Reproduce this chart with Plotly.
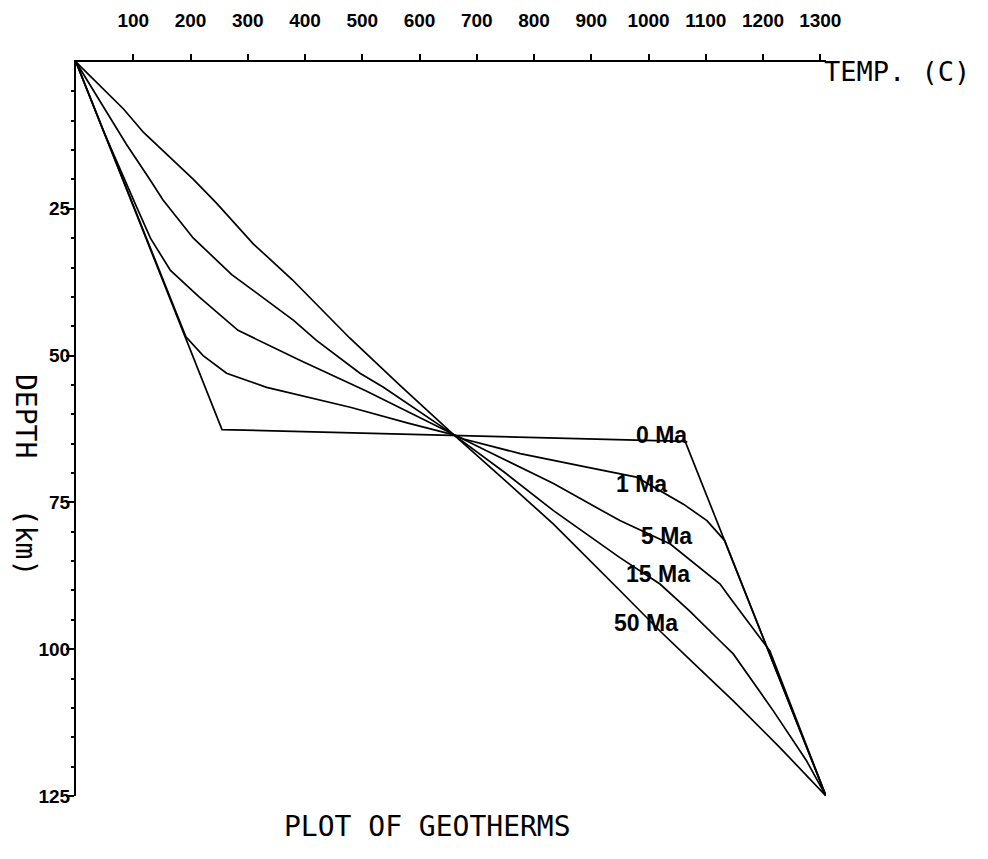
import plotly.graph_objects as go

# ---------------- data (temperature in C, depth in km) ----------------
t_0ma = [0, 255, 1064, 1310]
d_0ma = [0, 62.6, 64.6, 125]

t_1ma = [0, 41, 82, 122, 163, 192, 222, 263, 333, 479, 580, 660, 677, 776, 892, 979, 1061, 1102, 1133, 1310]
d_1ma = [0, 10, 20, 30, 40, 46.8, 50, 53, 55.4, 58.8, 61.5, 63.5, 64.2, 66.7, 69, 70.7, 75.3, 78.1, 81.5, 125]

t_5ma = [0, 49, 106, 130, 165, 215, 283, 391, 506, 660, 717, 834, 950, 1038, 1125, 1142, 1189, 1212, 1310]
d_5ma = [0, 12, 24.7, 30, 35.5, 40, 45.7, 50.8, 56, 63.5, 66.2, 71.8, 78.1, 82.1, 88.9, 91.2, 97.4, 100.3, 125]

t_15ma = [0, 48, 88, 129, 152, 205, 272, 380, 420, 496, 537, 660, 750, 834, 950, 1020, 1072, 1125, 1148, 1218, 1276, 1310]
d_15ma = [0, 7.6, 14, 20, 23.5, 30, 36.2, 44, 47.4, 53, 55.4, 63.5, 70, 76.4, 84.4, 88.9, 93.5, 98.6, 100.8, 110.5, 119, 125]

t_50ma = [0, 83, 118, 205, 245, 310, 377, 478, 565, 660, 735, 834, 950, 1020, 1080, 1148, 1230, 1310]
d_50ma = [0, 8, 12, 20, 24, 31, 37, 47, 55, 63.5, 70, 78.7, 90, 96.9, 102.5, 108.8, 116.8, 125]

curve_names = ["0 Ma", "1 Ma", "5 Ma", "15 Ma", "50 Ma"]
label_t = [1022, 988, 1031, 1016, 995]
label_d = [63.6, 71.8, 80.7, 87.2, 95.6]

x_tick_vals = [100, 200, 300, 400, 500, 600, 700, 800, 900, 1000, 1100, 1200, 1300]
x_tick_text = [str(v) for v in x_tick_vals]
y_tick_vals = [25, 50, 75, 100, 125]
y_tick_text = [str(v) for v in y_tick_vals]
y_minor_vals = list(range(5, 125, 5))

x_title = "TEMP. (C)"
y_title = "DEPTH   (km)"
plot_title = "PLOT OF GEOTHERMS"

# ---------------- figure ----------------
OFF = 8  # page body margin of the html page
W, H = 988 - 2 * OFF, 859 - 2 * OFF
# plot area in page pixels
L, R, T, B = 76 - OFF, 826 - OFF, 62 - OFF, 796 - OFF


def px(x):
    return (x - OFF - L) / (R - L)


def py(y):
    return (B - (y - OFF)) / (B - T)


fig = go.Figure()
series = [(t_0ma, d_0ma, "y"), (t_1ma, d_1ma, "y"),
          (t_5ma, d_5ma, "y2"), (t_15ma, d_15ma, "y2"), (t_50ma, d_50ma, "y2")]
for t, d, ya in series:
    fig.add_trace(go.Scatter(x=t, y=d, mode="lines", yaxis=ya,
                             line=dict(color="black", width=1.7),
                             showlegend=False, hoverinfo="skip"))

label_font = dict(family="Liberation Sans, Arial, sans-serif", size=23, color="black", weight="bold")
for name, lt, ld in zip(curve_names, label_t, label_d):
    fig.add_annotation(x=lt, y=ld, xref="x", yref="y", text=name, showarrow=False,
                       font=label_font, xanchor="center", yanchor="middle")

tick_font = dict(family="Liberation Sans, Arial, sans-serif", size=19, color="black", weight="bold")
plotter_font = "DejaVu Sans Mono, Liberation Mono, monospace"

fig.add_annotation(x=px(822), y=py(72), xref="paper", yref="paper", text=x_title,
                   showarrow=False, xanchor="left", yanchor="middle",
                   font=dict(family=plotter_font, size=27, color="black"))
fig.add_annotation(x=px(25), y=py(475), xref="paper", yref="paper", text=y_title,
                   showarrow=False, xanchor="center", yanchor="middle", textangle=90,
                   font=dict(family=plotter_font, size=28, color="black"))
fig.add_annotation(x=px(427), y=py(827), xref="paper", yref="paper", text=plot_title,
                   showarrow=False, xanchor="center", yanchor="middle",
                   font=dict(family=plotter_font, size=28, color="black"))

fig.update_xaxes(range=[0, 1310], side="top", tickmode="array", tickvals=x_tick_vals,
                 ticktext=x_tick_text, ticks="outside", ticklen=6, tickwidth=2, tickcolor="black",
                 showline=True, linecolor="black", linewidth=2, showgrid=False, zeroline=False,
                 tickfont=tick_font, ticklabelstandoff=19, automargin=False)
fig.update_layout(
    yaxis=dict(range=[125, 0], tickmode="array", tickvals=y_tick_vals, ticktext=y_tick_text,
               ticks="outside", ticklen=8, tickwidth=2, tickcolor="black",
               showline=True, linecolor="black", linewidth=2, showgrid=False, zeroline=False,
               tickfont=tick_font, ticklabelstandoff=-8, automargin=False),
    # overlay axis (same scale) carrying the 5 km minor ticks
    yaxis2=dict(range=[125, 0], overlaying="y", anchor="x", side="left",
                tickmode="array", tickvals=y_minor_vals, showticklabels=False,
                ticks="outside", ticklen=4, tickwidth=1.5, tickcolor="black",
                showline=False, showgrid=False, zeroline=False, automargin=False),
)

fig.update_layout(width=W, height=H, autosize=False,
                  margin=dict(l=L, r=W - R, t=T, b=H - B),
                  paper_bgcolor="white", plot_bgcolor="white")

fig.write_html("out.html")
